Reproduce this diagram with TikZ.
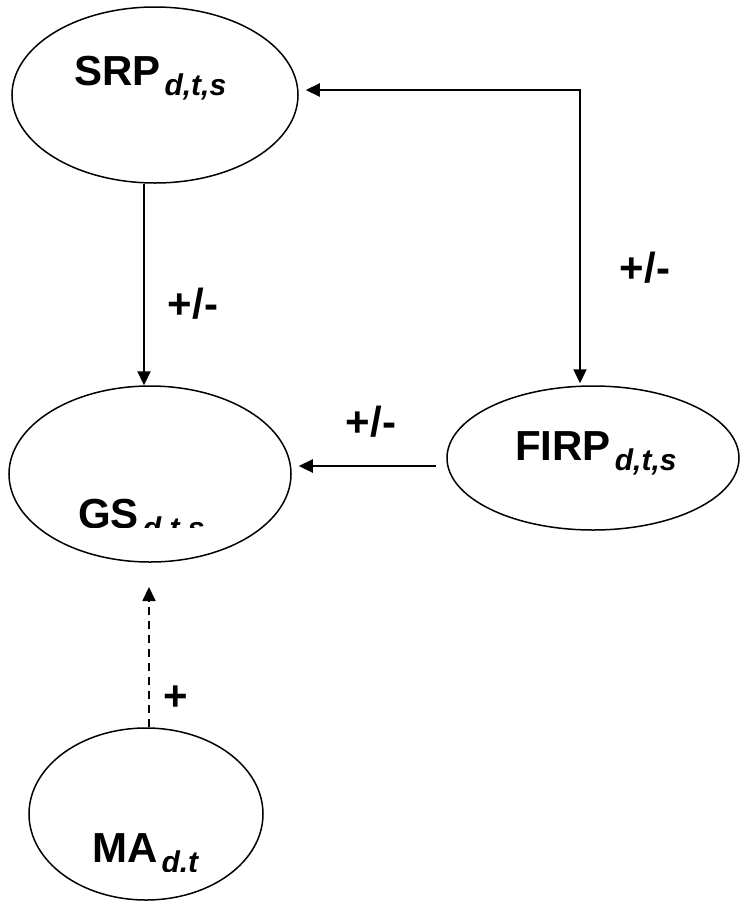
\documentclass[tikz,border=0pt]{standalone}
\usepackage{fontspec}
\setmainfont{Liberation Sans}
\usetikzlibrary{arrows.meta,shapes.geometric}
\newcommand{\subtxt}[1]{\kern4pt\raisebox{-10pt}{\fontsize{30}{30}\selectfont\bfseries\itshape #1}}
\tikzset{
  ell/.style={draw, ellipse, line width=1.5pt, inner sep=0pt},
  lbl/.style={font=\fontsize{42}{50}\selectfont\bfseries, inner sep=0pt},
  tip/.tip={Triangle[length=14pt,width=13pt]},
  arr/.style={line width=2.2pt, -tip},
  darr/.style={line width=1.8pt, dash pattern=on 8pt off 6pt, -tip},
}
\begin{document}
\begin{tikzpicture}[x=1pt,y=1pt]
\useasboundingbox (0,0) rectangle (740,-903);
% ellipses
\node[ell, minimum width=286pt, minimum height=176pt] (srp) at (155,-95) {};
\node[ell, minimum width=282pt, minimum height=176pt] (gs) at (150,-474) {};
\node[ell, minimum width=292pt, minimum height=144pt] (firp) at (593,-458) {};
\node[ell, minimum width=234pt, minimum height=172pt] (ma) at (146,-814) {};
% texts
\node[lbl, anchor=base west] (tsrp) at (74,-85) {SRP\subtxt{d,t,s}};
\node[lbl, anchor=base west] (tfirp) at (515,-460) {FIRP\subtxt{d,t,s}};
\begin{scope}
\clip (40,-470) rectangle (270,-527);
\node[lbl, anchor=base west] (tgs) at (78,-528) {GS\subtxt{d,t,s}};
\end{scope}
\begin{scope}
\clip (60,-800) rectangle (260,-871);
\node[lbl, anchor=base west] (tma) at (92,-862) {MA\subtxt{d,t}};
\end{scope}
% connectors
\coordinate (v1) at (144,0);
\coordinate (c1) at (580,-90);
\coordinate (c2) at (0,-466);
\draw[arr] (srp.south -| v1) -- (gs.north -| v1);
\draw[arr, tip-tip] ([xshift=7pt]srp.east |- c1) -- (c1) -- ([yshift=2pt]firp.north -| c1);
\draw[arr] ([xshift=-10pt]firp.west |- c2) -- ([xshift=7pt]gs.east |- c2);
\coordinate (d1) at (149,-587);
\draw[darr] (ma.north -| d1) -- (d1);
% labels
\node[lbl] (l1) at (193,-304) {+/-};
\node[lbl] (l2) at (645,-268) {+/-};
\node[lbl] (l3) at (371,-422) {+/-};
\node[lbl] (l4) at (176,-698) {+};
\end{tikzpicture}
\end{document}
